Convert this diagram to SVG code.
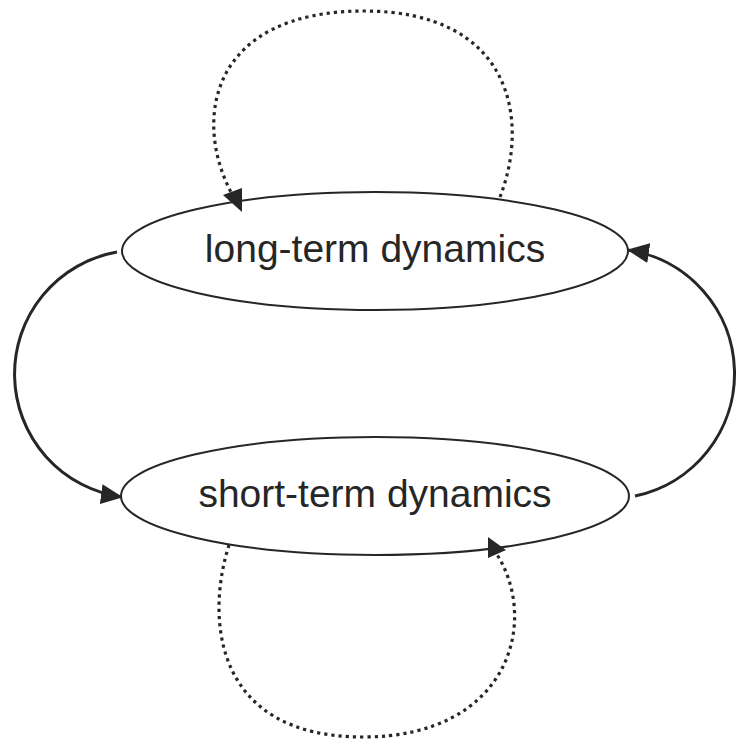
<svg xmlns="http://www.w3.org/2000/svg" width="738" height="742" viewBox="0 0 738 742">
<style>
.node ellipse{fill:#fff;stroke:#262626;stroke-width:2}
.node text{font-family:"Liberation Sans",Arial,sans-serif;font-size:39px;fill:#262626;text-anchor:middle}
.solid{fill:none;stroke:#262626;stroke-width:3}
.dotted{fill:none;stroke:#262626;stroke-width:3.2;stroke-dasharray:3.2 4}
.head{fill:#262626}
</style>
<defs>
<marker id="ah" markerUnits="userSpaceOnUse" markerWidth="22" markerHeight="20" refX="21" refY="10" orient="auto" viewBox="0 0 22 20">
<path d="M0,0 L22,10 L0,20 z" fill="#262626"/>
</marker>
</defs>
<g id="connectors">
<path class="solid" d="M 117 252 A 124 124 0 0 0 122 497" marker-end="url(#ah)"/>
<path class="solid" d="M 635 496 A 125 125 0 0 0 628 250" marker-end="url(#ah)"/>
<path class="dotted" d="M 500 197 C 530 120, 512 11, 364 11 C 210 11, 192 120, 232 194"/>
<path class="dotted" d="M 229 545 C 205 620, 215 737, 363 737 C 510 737, 540 620, 496 553"/>
</g>
<g id="long-term" class="node">
<ellipse cx="375" cy="251" rx="253" ry="59"/>
<text x="375" y="262">long-term dynamics</text>
</g>
<g id="short-term" class="node">
<ellipse cx="375" cy="496" rx="254" ry="59"/>
<text x="375" y="507">short-term dynamics</text>
</g>
<g id="arrowheads">
<path class="head" d="M 223 195 L 242 212 L 242 188 Z"/>
<path class="head" d="M 488 537 L 488 558 L 506 550 Z"/>
</g>
</svg>
